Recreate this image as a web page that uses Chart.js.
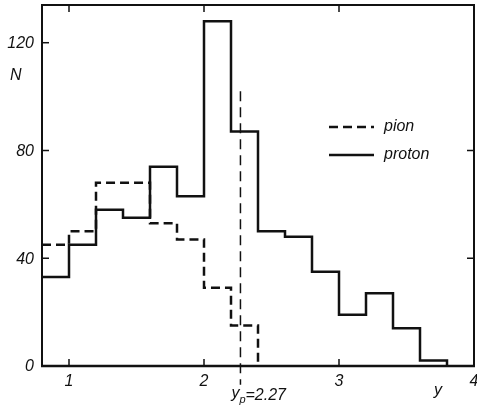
<!DOCTYPE html>
<html>
<head>
<meta charset="utf-8">
<script src="https://cdn.jsdelivr.net/npm/chart.js@4/dist/chart.umd.min.js"></script>
<style>
  html, body { margin: 0; padding: 0; background: #fff; }
  canvas { display: block; }
</style>
</head>
<body>
<canvas id="rapidity" width="477" height="410"></canvas>
<script>
// bin edges (lower edge of every bin), width 0.2
const binEdges = [0.8, 1.0, 1.2, 1.4, 1.6, 1.8, 2.0, 2.2, 2.4, 2.6, 2.8, 3.0, 3.2, 3.4, 3.6, 3.8];
const protonCounts = [33, 45, 58, 55, 74, 63, 128, 87, 50, 48, 35, 19, 27, 14, 2];
const pionCounts = [45, 50, 68, 68, 53, 47, 29, 15];
const xTicks = [1, 2, 3, 4];
const yTicks = [0, 40, 80, 120];
const yP = 2.27;
const yPMarkTop = 102;
const yPMarkBottom = -7;

function histo(counts) {
    const pts = counts.map((c, i) => ({ x: binEdges[i], y: c }));
    pts.push({ x: binEdges[counts.length], y: 0 });
    return pts;
}

const font = 'italic 16px "Liberation Sans", Arial, sans-serif';

const axesPlugin = {
    id: 'axesPlugin',
    afterDraw(chart) {
        const ctx = chart.ctx;
        const a = chart.chartArea;
        const xs = chart.scales.x;
        const ys = chart.scales.y;
        ctx.save();
        ctx.strokeStyle = '#111';
        ctx.lineWidth = 2;
        ctx.strokeRect(a.left, a.top, a.right - a.left, a.bottom - a.top);
        ctx.lineWidth = 2.5;
        ctx.beginPath();
        ctx.moveTo(a.left - 1, a.bottom);
        ctx.lineTo(a.right + 1, a.bottom);
        ctx.stroke();

        // inward ticks
        ctx.lineWidth = 1.5;
        xTicks.forEach(t => {
            const px = xs.getPixelForValue(t);
            if (px >= a.right - 1) return;
            ctx.beginPath();
            ctx.moveTo(px, a.bottom); ctx.lineTo(px, a.bottom - 7);
            ctx.moveTo(px, a.top); ctx.lineTo(px, a.top + 7);
            ctx.stroke();
        });
        yTicks.forEach(t => {
            if (t === 0) return;
            const py = ys.getPixelForValue(t);
            ctx.beginPath();
            ctx.moveTo(a.left, py); ctx.lineTo(a.left + 7, py);
            if (t < 120) { ctx.moveTo(a.right, py); ctx.lineTo(a.right - 7, py); }
            ctx.stroke();
        });

        // tick labels
        ctx.fillStyle = '#111';
        ctx.font = font;
        ctx.textAlign = 'right';
        ctx.textBaseline = 'middle';
        yTicks.forEach(t => {
            ctx.fillText(String(t), a.left - 8, ys.getPixelForValue(t) + 1);
        });
        ctx.textAlign = 'center';
        ctx.textBaseline = 'top';
        xTicks.forEach(t => {
            ctx.fillText(String(t), xs.getPixelForValue(t), a.bottom + 8);
        });

        // axis titles
        ctx.textAlign = 'left';
        ctx.textBaseline = 'middle';
        ctx.fillText('N', 10, 76);
        ctx.fillText('y', 434, 391);

        // y_p label
        const mx = xs.getPixelForValue(yP);
        ctx.textBaseline = 'alphabetic';
        ctx.fillText('y', mx - 9, 398);
        ctx.font = 'italic 11px "Liberation Sans", Arial, sans-serif';
        ctx.fillText('p', mx - 1, 403);
        ctx.font = font;
        ctx.fillText('=2.27', mx + 5, 400);
        ctx.textBaseline = 'middle';

        // legend
        const legend = [
            { ds: chart.data.datasets[0], y: 127 },
            { ds: chart.data.datasets[1], y: 155 }
        ];
        legend.forEach(l => {
            ctx.lineWidth = l.ds.borderWidth;
            ctx.setLineDash(l.ds.borderDash || []);
            ctx.beginPath();
            ctx.moveTo(329, l.y);
            ctx.lineTo(374, l.y);
            ctx.stroke();
            ctx.setLineDash([]);
            ctx.fillText(l.ds.label, 384, l.y);
        });
        ctx.restore();
    }
};

window.addEventListener('load', () => {
    const ctx = document.getElementById('rapidity').getContext('2d');
    new Chart(ctx, {
        type: 'line',
        data: {
            datasets: [{
                label: 'pion',
                data: histo(pionCounts),
                stepped: 'before',
                borderColor: '#111',
                borderWidth: 2.5,
                borderDash: [9, 5],
                pointRadius: 0,
                fill: false
            }, {
                label: 'proton',
                data: histo(protonCounts),
                stepped: 'before',
                borderColor: '#111',
                borderWidth: 2.5,
                pointRadius: 0,
                fill: false
            }, {
                label: 'yp',
                data: [{ x: yP, y: yPMarkTop }, { x: yP, y: yPMarkBottom }],
                borderColor: '#111',
                borderWidth: 1.5,
                borderDash: [10, 6],
                pointRadius: 0,
                clip: false,
                fill: false
            }]
        },
        options: {
            responsive: false,
            animation: false,
            layout: { padding: { left: 42, right: 3, top: 5, bottom: 44 } },
            scales: {
                x: { type: 'linear', min: 0.8, max: 4, display: false },
                y: { min: 0, max: 134, display: false }
            },
            plugins: {
                legend: { display: false },
                tooltip: { enabled: false }
            }
        },
        plugins: [axesPlugin]
    });
});
</script>
</body>
</html>
